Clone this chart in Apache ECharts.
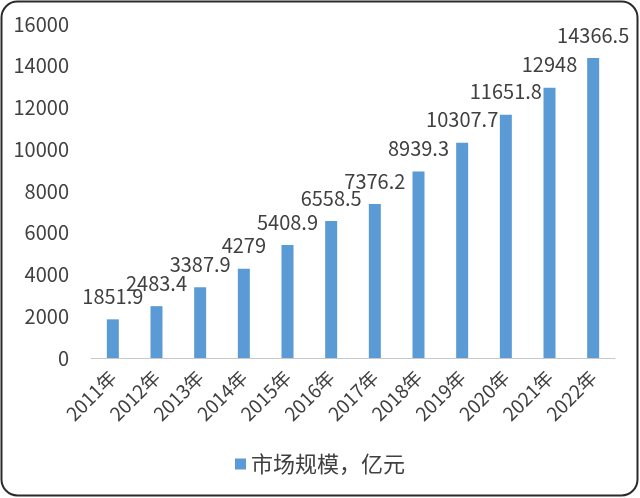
<!DOCTYPE html>
<html>
<head>
<meta charset="utf-8">
<script src="https://cdn.jsdelivr.net/npm/echarts@6/dist/echarts.min.js"></script>
<style>html,body{margin:0;padding:0;background:#fff;}#c{width:640px;height:498px;}</style>
</head>
<body>
<div id="c"></div>
<script>
const categories = ['2011年','2012年','2013年','2014年','2015年','2016年','2017年','2018年','2019年','2020年','2021年','2022年'];
const marketSize = [1851.9, 2483.4, 3387.9, 4279, 5408.9, 6558.5, 7376.2, 8939.3, 10307.7, 11651.8, 12948, 14366.5];
const seriesName = '市场规模，亿元';
const yTicks = [0, 2000, 4000, 6000, 8000, 10000, 12000, 14000, 16000];

const font = '"Noto Sans CJK SC", "Noto Sans", sans-serif';
const textColor = '#404040';
const chart = echarts.init(document.getElementById('c'), null, {renderer: 'canvas'});
chart.setOption({
  backgroundColor: '#fff',
  animation: false,
  textStyle: {fontFamily: font},
  graphic: [{
    type: 'rect',
    shape: {x: 1.5, y: 1.5, width: 636, height: 494, r: 16},
    style: {fill: 'none', stroke: '#2b2b2b', lineWidth: 2},
    silent: true, z: 100
  }],
  grid: {left: 91, right: 25, top: 24, bottom: 140},
  legend: {
    data: [seriesName],
    bottom: 18,
    left: 'center',
    icon: 'rect',
    itemWidth: 11, itemHeight: 11, itemGap: 9,
    textStyle: {fontSize: 22, color: textColor, fontFamily: font}
  },
  xAxis: {
    type: 'category',
    data: categories,
    axisLine: {lineStyle: {color: '#c8c8c8', width: 1}},
    axisTick: {alignWithLabel: false, length: 6, lineStyle: {color: '#c8c8c8'}},
    axisLabel: {interval: 0, rotate: 45, fontSize: 19, color: textColor, margin: 16, fontFamily: font}
  },
  yAxis: {
    type: 'value',
    min: yTicks[0], max: yTicks[yTicks.length - 1], interval: 2000,
    axisLine: {show: false},
    axisTick: {show: false},
    splitLine: {show: false},
    axisLabel: {fontSize: 20, color: textColor, margin: 22, fontFamily: font, formatter: v => String(v)}
  },
  series: [{
    name: seriesName,
    type: 'bar',
    data: marketSize,
    barWidth: 12,
    itemStyle: {color: '#5b9bd5'},
    label: {show: true, position: 'top', distance: 13, fontSize: 20, color: textColor, fontFamily: font, formatter: p => String(p.value)}
  }]
});
</script>
</body>
</html>
